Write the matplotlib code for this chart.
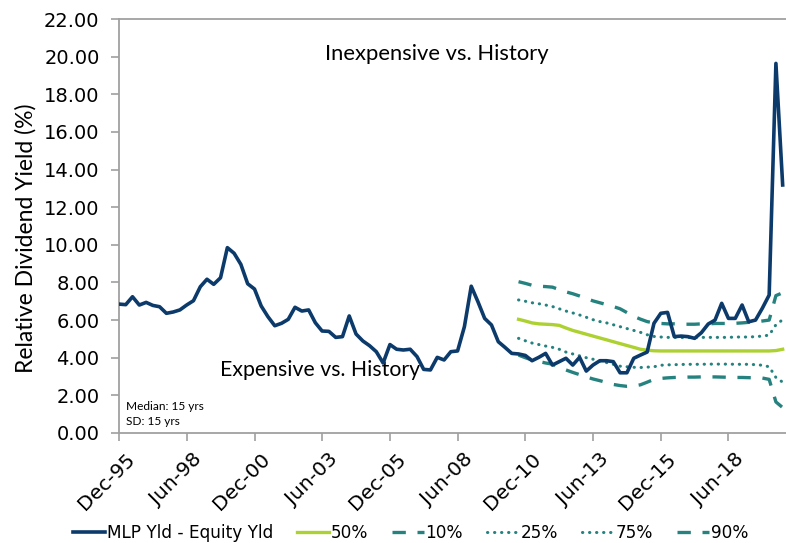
import matplotlib
matplotlib.use('Agg')
import matplotlib.pyplot as plt
from matplotlib.transforms import ScaledTranslation
import pandas as pd

plt.rcParams['font.family'] = ['DejaVu Sans']

# quarterly data, Dec-95 .. Jun-20
dates = pd.date_range('1995-12-31', periods=99, freq='QE')

mlp_spread = [
    6.85, 6.82, 7.24, 6.80, 6.94, 6.78, 6.71, 6.36, 6.43, 6.54,
    6.80, 7.03, 7.77, 8.17, 7.90, 8.25, 9.85, 9.55, 8.96, 7.93,
    7.65, 6.75, 6.18, 5.70, 5.83, 6.04, 6.68, 6.48, 6.54, 5.86,
    5.42, 5.40, 5.08, 5.12, 6.22, 5.26, 4.89, 4.64, 4.32, 3.72,
    4.70, 4.45, 4.41, 4.45, 4.06, 3.38, 3.35, 4.02, 3.88, 4.32,
    4.36, 5.65, 7.80, 6.98, 6.09, 5.74, 4.85, 4.55, 4.23, 4.20,
    4.12, 3.84, 4.02, 4.23, 3.61, 3.79, 3.97, 3.61, 4.02, 3.29,
    3.61, 3.84, 3.84, 3.79, 3.20, 3.20, 3.97, 4.14, 4.30, 5.83,
    6.36, 6.41, 5.12, 5.15, 5.12, 5.03, 5.33, 5.79, 6.00, 6.89,
    6.09, 6.09, 6.80, 5.91, 6.00, 6.63, 7.33, 19.64, 13.18,
]

# rolling 15-year percentile bands start Sep-10
pct_start = 59
p50 = [
    6.04, 5.95, 5.85, 5.80, 5.78, 5.76, 5.72, 5.58, 5.45, 5.35,
    5.25, 5.15, 5.05, 4.95, 4.85, 4.75, 4.65, 4.55, 4.45, 4.40,
    4.37, 4.36, 4.36, 4.36, 4.36, 4.36, 4.36, 4.36, 4.36, 4.36,
    4.36, 4.36, 4.36, 4.36, 4.36, 4.36, 4.36, 4.36, 4.38, 4.45,
]
p10 = [
    4.14, 4.00, 3.88, 3.80, 3.72, 3.66, 3.50, 3.35, 3.22, 3.10,
    2.98, 2.87, 2.78, 2.68, 2.58, 2.52, 2.48, 2.50, 2.56, 2.70,
    2.85, 2.90, 2.93, 2.95, 2.96, 2.97, 2.97, 2.98, 2.98, 2.98,
    2.97, 2.96, 2.95, 2.95, 2.94, 2.93, 2.92, 2.85, 1.65, 1.35,
]
p25 = [
    5.03, 4.90, 4.78, 4.70, 4.62, 4.55, 4.45, 4.30, 4.20, 4.10,
    4.00, 3.92, 3.82, 3.74, 3.65, 3.55, 3.52, 3.49, 3.48, 3.50,
    3.52, 3.60, 3.62, 3.63, 3.64, 3.65, 3.65, 3.65, 3.66, 3.66,
    3.66, 3.66, 3.65, 3.65, 3.65, 3.63, 3.60, 3.52, 2.95, 2.70,
]
p75 = [
    7.07, 7.00, 6.92, 6.87, 6.80, 6.72, 6.60, 6.48, 6.38, 6.27,
    6.15, 6.02, 5.92, 5.85, 5.75, 5.65, 5.55, 5.45, 5.35, 5.22,
    5.13, 5.10, 5.08, 5.08, 5.07, 5.07, 5.07, 5.08, 5.08, 5.08,
    5.08, 5.08, 5.10, 5.10, 5.10, 5.12, 5.15, 5.20, 5.75, 6.02,
]
p90 = [
    8.04, 7.95, 7.85, 7.80, 7.78, 7.75, 7.62, 7.50, 7.40, 7.28,
    7.15, 7.02, 6.92, 6.82, 6.72, 6.60, 6.40, 6.20, 6.05, 5.92,
    5.85, 5.82, 5.80, 5.80, 5.78, 5.78, 5.78, 5.80, 5.80, 5.82,
    5.82, 5.82, 5.83, 5.85, 5.88, 5.90, 5.95, 6.00, 7.30, 7.45,
]

navy = '#0b3a6b'
green = '#add130'
teal = '#25827f'
grey = '#a0a0a0'

fig = plt.figure(figsize=(7.86, 5.43), dpi=100)
ax = fig.add_axes([0.1514, 0.2026, 0.8486, 0.7624])

pd_dates = dates[pct_start:]
ax.plot(dates, mlp_spread, color=navy, lw=2.6, label='MLP Yld - Equity Yld',
        solid_joinstyle='round', zorder=5)
ax.plot(pd_dates, p50, color=green, lw=2.4, label='50%')
ax.plot(pd_dates, p10, color=teal, lw=2.4, ls=(0, (4, 3.5)), label='10%')
ax.plot(pd_dates, p25, color=teal, lw=2.2, ls=(0, (0.1, 2.2)),
        dash_capstyle='round', label='25%')
ax.plot(pd_dates, p75, color=teal, lw=2.2, ls=(0, (0.1, 2.2)),
        dash_capstyle='round', label='75%')
ax.plot(pd_dates, p90, color=teal, lw=2.4, ls=(0, (4, 3.5)), label='90%')

ax.set_ylim(0, 22)
ax.set_yticks(range(0, 23, 2))
ax.set_yticklabels([f'{v:.2f}' for v in range(0, 23, 2)], fontsize=14)
ax.set_xlim(dates[0], dates[-1] + pd.Timedelta(days=45))

tick_dates = dates[::10]
ax.set_xticks(tick_dates)
ax.set_xticklabels([d.strftime('%b-%y') for d in tick_dates], rotation=45,
                   ha='right', rotation_mode='anchor', fontsize=14.5)

for s in ['left', 'bottom', 'top']:
    ax.spines[s].set_color(grey)
    ax.spines[s].set_linewidth(1.3)
ax.spines['right'].set_visible(False)
ax.tick_params(axis='both', direction='out', length=6, width=1.2, color=grey,
               labelcolor='black')
ax.tick_params(axis='y', pad=8)
ax.tick_params(axis='x', pad=6)
shift = ScaledTranslation(6 / 100, 0, fig.dpi_scale_trans)
for lab in ax.get_xticklabels():
    lab.set_transform(lab.get_transform() + shift)

ax.set_ylabel('Relative Dividend Yield (%)', fontsize=16.5, family='Lato')
ax.yaxis.set_label_coords(-0.123, 0.47)

ax.text(0.476, 0.915, 'Inexpensive vs. History', transform=ax.transAxes,
        ha='center', va='center', fontsize=15.8, family='Lato')
ax.text(0.302, 0.152, 'Expensive vs. History', transform=ax.transAxes,
        ha='center', va='center', fontsize=15.3, family='Lato')
ax.text(0.01, 0.065, 'Median: 15 yrs', transform=ax.transAxes, fontsize=8.6,
        family='Lato', va='center')
ax.text(0.01, 0.027, 'SD: 15 yrs', transform=ax.transAxes, fontsize=8.6,
        family='Lato', va='center')

fig.legend(loc='center', bbox_to_anchor=(0.522, 0.018), ncol=6, frameon=False,
           fontsize=12.2, handlelength=1.9, handletextpad=0.1, columnspacing=1.4)

fig.savefig('out.png', dpi=100)
